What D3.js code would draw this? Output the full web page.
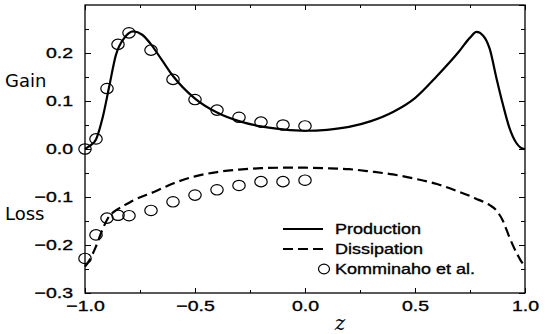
<!DOCTYPE html>
<html>
<head>
<meta charset="utf-8">
<script src="https://d3js.org/d3.v7.min.js"></script>
<style>
body { margin: 0; background: white; }
svg { display: block; }
.tick text { font-family: "Liberation Sans", Arial, sans-serif; font-size: 15px; fill: black; stroke: black; stroke-width: 0.35px; }
.axis path { display: none; }
.axis line { stroke: black; stroke-width: 1; }
.leg { font-family: "Liberation Sans", Arial, sans-serif; font-size: 15px; stroke: black; stroke-width: 0.35px; }
</style>
</head>
<body>
<svg width="545" height="334"></svg>
<script>
// curves
const zCurve = [-1.0, -0.98, -0.95, -0.92, -0.89, -0.86, -0.82, -0.78, -0.74, -0.70, -0.65, -0.60, -0.50, -0.40, -0.30, -0.20, -0.10, 0.0,
                0.10, 0.20, 0.30, 0.40, 0.50, 0.60, 0.70, 0.75, 0.78, 0.81, 0.84, 0.87, 0.90, 0.93, 0.96, 0.98, 1.0];
const production = [0.0, 0.006, 0.02, 0.065, 0.13, 0.195, 0.232, 0.245, 0.238, 0.218, 0.185, 0.152, 0.105, 0.076, 0.058, 0.047, 0.041, 0.038,
                    0.040, 0.046, 0.058, 0.077, 0.106, 0.152, 0.203, 0.232, 0.244, 0.236, 0.208, 0.148, 0.092, 0.043, 0.013, 0.003, 0.0];
const dissipation = [-0.245, -0.232, -0.203, -0.167, -0.14, -0.128, -0.117, -0.107, -0.099, -0.092, -0.082, -0.072, -0.057, -0.048, -0.043, -0.040, -0.039, -0.039,
                     -0.040, -0.042, -0.047, -0.053, -0.062, -0.073, -0.089, -0.098, -0.104, -0.110, -0.117, -0.128, -0.150, -0.185, -0.215, -0.232, -0.245];

// Komminaho et al. symbols
const zData = [-1.0, -0.95, -0.9, -0.85, -0.8, -0.7, -0.6, -0.5, -0.4, -0.3, -0.2, -0.1, 0.0];
const gainData = [0.0, 0.021, 0.126, 0.218, 0.242, 0.206, 0.145, 0.103, 0.081, 0.066, 0.056, 0.05, 0.048];
const lossData = [-0.228, -0.179, -0.144, -0.138, -0.139, -0.128, -0.11, -0.096, -0.085, -0.076, -0.068, -0.068, -0.065];

const yMajor = [-0.3, -0.2, -0.1, 0.0, 0.1, 0.2];
const yMinor = [-0.25, -0.15, -0.05, 0.05, 0.15, 0.25];
const xMajor = [-1.0, -0.5, 0.0, 0.5, 1.0];
const xMinor = [-0.75, -0.25, 0.25, 0.75];
const legendNames = ["Production", "Dissipation", "Komminaho et al."];

const svg = d3.select("svg");
const x = d3.scaleLinear().domain([-1, 1]).range([85, 525]);
const y = d3.scaleLinear().domain([-0.3, 0.3]).range([293, 5]);
const fmt = d3.format(".1f");

// frame
svg.append("rect")
  .attr("x", 85).attr("y", 5).attr("width", 440).attr("height", 288)
  .attr("fill", "none").attr("stroke", "black").attr("stroke-width", 1.3);

// axes, ticks pointing inward; labels are wide in the original so stretch them
const yAx = svg.append("g").attr("class", "axis").attr("transform", "translate(85,0)")
  .call(d3.axisLeft(y).tickValues(yMajor).tickSize(-6).tickFormat(fmt));
yAx.selectAll("text").attr("x", 0).attr("transform", "translate(-12,0) scale(1.3,1)");
svg.append("g").attr("class", "axis").attr("transform", "translate(85,0)")
  .call(d3.axisLeft(y).tickValues(yMinor).tickSize(-4).tickFormat(""));
svg.append("g").attr("class", "axis").attr("transform", "translate(525,0)")
  .call(d3.axisRight(y).tickValues(yMajor.concat([0.3])).tickSize(-6).tickFormat(""));
svg.append("g").attr("class", "axis").attr("transform", "translate(525,0)")
  .call(d3.axisRight(y).tickValues(yMinor).tickSize(-4).tickFormat(""));
const xAx = svg.append("g").attr("class", "axis").attr("transform", "translate(0,293)")
  .call(d3.axisBottom(x).tickValues(xMajor).tickSize(-5).tickPadding(7).tickFormat(fmt));
xAx.selectAll("text").attr("transform", "scale(1.3,1)");
svg.append("g").attr("class", "axis").attr("transform", "translate(0,293)")
  .call(d3.axisBottom(x).tickValues(xMinor).tickSize(-3).tickFormat(""));
svg.append("g").attr("class", "axis").attr("transform", "translate(0,5)")
  .call(d3.axisTop(x).tickValues(xMajor).tickSize(-5).tickFormat(""));
svg.append("g").attr("class", "axis").attr("transform", "translate(0,5)")
  .call(d3.axisTop(x).tickValues(xMinor).tickSize(-3).tickFormat(""));

// labels
svg.append("text").attr("x", 5).attr("y", 87)
  .style("font-family", "DejaVu Sans, sans-serif").style("font-size", "18px").text("Gain");
svg.append("text").attr("x", 5).attr("y", 220)
  .style("font-family", "DejaVu Sans, sans-serif").style("font-size", "18px").text("Loss");
svg.append("text").attr("x", 340).attr("y", 330).attr("text-anchor", "middle")
  .style("font-family", "DejaVu Serif, serif").style("font-style", "italic").style("font-size", "20px").text("z");

// curves
const line = (vals) => d3.line()
  .x((d, i) => x(zCurve[i]))
  .y(d => y(d))
  .curve(d3.curveMonotoneX)(vals);

svg.append("path").attr("d", line(production))
  .attr("fill", "none").attr("stroke", "black").attr("stroke-width", 2.2);
svg.append("path").attr("d", line(dissipation))
  .attr("fill", "none").attr("stroke", "black").attr("stroke-width", 2.2)
  .attr("stroke-dasharray", "10,5");

// symbols
const sym = svg.append("g");
zData.forEach((z, i) => {
  [gainData[i], lossData[i]].forEach(v => {
    sym.append("ellipse")
      .attr("cx", x(z)).attr("cy", y(v)).attr("rx", 6.2).attr("ry", 5.2)
      .attr("fill", "none").attr("stroke", "black").attr("stroke-width", 1.2);
  });
});

// legend
const leg = svg.append("g");
leg.append("line").attr("x1", 283).attr("x2", 323).attr("y1", 229).attr("y2", 229)
  .attr("stroke", "black").attr("stroke-width", 2.2);
leg.append("line").attr("x1", 283).attr("x2", 323).attr("y1", 249).attr("y2", 249)
  .attr("stroke", "black").attr("stroke-width", 2.2).attr("stroke-dasharray", "10,5");
leg.append("ellipse").attr("cx", 324).attr("cy", 269).attr("rx", 5.5).attr("ry", 4.8)
  .attr("fill", "none").attr("stroke", "black").attr("stroke-width", 1.2);
legendNames.forEach((n, i) => {
  leg.append("text").attr("class", "leg")
    .attr("transform", `translate(335,${234 + i * 20}) scale(1.2,1)`).text(n);
});
</script>
</body>
</html>
